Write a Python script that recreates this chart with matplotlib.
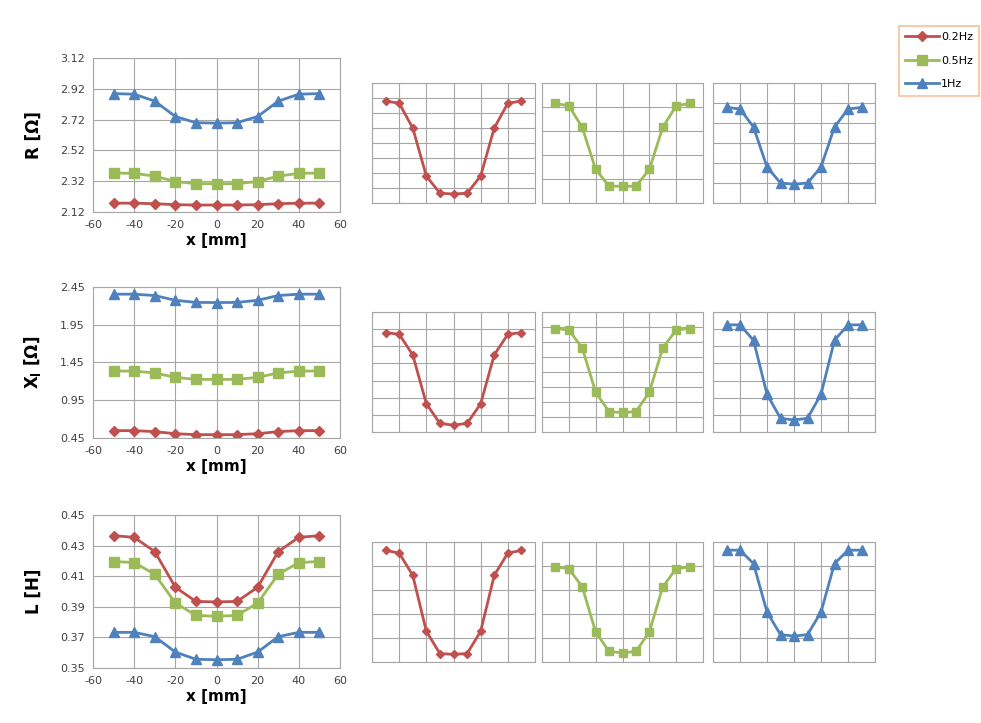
import matplotlib.pyplot as plt
import numpy as np

plt.rcParams['axes.unicode_minus'] = False

# positions along the coil [mm]
x = [-50, -40, -30, -20, -10, 0, 10, 20, 30, 40, 50]

# resistance R [Ohm]
r_02 = [2.1776, 2.1773, 2.1740, 2.1676, 2.1653, 2.1652, 2.1653, 2.1676, 2.1740, 2.1773, 2.1776]
r_05 = [2.373, 2.371, 2.353, 2.318, 2.304, 2.304, 2.304, 2.318, 2.353, 2.371, 2.373]
r_1 = [2.889, 2.885, 2.840, 2.740, 2.700, 2.697, 2.700, 2.740, 2.840, 2.885, 2.889]

# reactance Xl [Ohm]
xl_02 = [0.548, 0.547, 0.535, 0.5065, 0.495, 0.494, 0.495, 0.5065, 0.535, 0.547, 0.548]
xl_05 = [1.338, 1.336, 1.312, 1.253, 1.227, 1.226, 1.227, 1.253, 1.312, 1.336, 1.338]
xl_1 = [2.355, 2.355, 2.337, 2.274, 2.246, 2.244, 2.246, 2.274, 2.337, 2.355, 2.355]

# inductance L [H]
l_02 = [0.4365, 0.4354, 0.4261, 0.4028, 0.3935, 0.3932, 0.3935, 0.4028, 0.4261, 0.4354, 0.4365]
l_05 = [0.4196, 0.4189, 0.4113, 0.3925, 0.3844, 0.3838, 0.3844, 0.3925, 0.4113, 0.4189, 0.4196]
l_1 = [0.3733, 0.3733, 0.3705, 0.3604, 0.3557, 0.3554, 0.3557, 0.3604, 0.3705, 0.3733, 0.3733]

labels = ['0.2Hz', '0.5Hz', '1Hz']
colors = ['#C0504D', '#9BBB59', '#4F81BD']
markers = ['D', 's', '^']
msizes = [5, 6.5, 7]

rows = [
    {'data': [r_02, r_05, r_1], 'ylabel': 'R [Ω]', 'ylim': (2.12, 3.12), 'ystep': 0.2,
     'small': [(2.164, 2.180, 0.002), (2.29, 2.39, 0.02), (2.65, 2.95, 0.05)]},
    {'data': [xl_02, xl_05, xl_1], 'ylabel': r'X$_\mathbf{l}$ [Ω]', 'ylim': (0.45, 2.45), 'ystep': 0.5,
     'small': [(0.49, 0.56, 0.01), (1.20, 1.36, 0.02), (2.23, 2.37, 0.02)]},
    {'data': [l_02, l_05, l_1], 'ylabel': 'L [H]', 'ylim': (0.35, 0.45), 'ystep': 0.02,
     'small': [(0.39, 0.44, 0.01), (0.38, 0.43, 0.01), (0.35, 0.375, 0.005)]},
]

W, H = 981, 723
fig = plt.figure(figsize=(W / 100, H / 100), dpi=100)

# pixel boxes (left, top, right, bottom)
main_boxes = [(93, 58, 340, 212), (93, 287, 340, 438), (93, 515, 340, 668)]
small_cols = [(372, 535), (542, 703), (713, 875)]
small_rows = [(83, 203), (312, 432), (542, 662)]

grid_c = '#A6A6A6'
spine_c = '#A6A6A6'


def add_ax(l, t, r, b):
    return fig.add_axes([l / W, 1 - b / H, (r - l) / W, (b - t) / H])


handles = []
for i, row in enumerate(rows):
    l, t, r, b = main_boxes[i]
    ax = add_ax(l, t, r, b)
    for k in range(3):
        h, = ax.plot(x, row['data'][k], color=colors[k], marker=markers[k],
                     markersize=msizes[k], linewidth=2, label=labels[k])
        if i == 0:
            handles.append(h)
    y0, y1 = row['ylim']
    ax.set_xlim(-60, 60)
    ax.set_ylim(y0, y1)
    ax.set_xticks(np.arange(-60, 61, 20))
    ax.set_yticks(np.arange(y0, y1 + row['ystep'] / 2, row['ystep']))
    ax.yaxis.set_major_formatter(plt.FormatStrFormatter('%.2f'))
    ax.grid(True, color=grid_c, linewidth=0.8)
    ax.set_axisbelow(True)
    ax.tick_params(length=0, labelsize=8, colors='#404040', pad=6)
    for s in ax.spines.values():
        s.set_color(spine_c)
    ax.set_xlabel('x [mm]', fontsize=11, fontweight='bold', labelpad=2)
    ax.set_ylabel(row['ylabel'], fontsize=12, fontweight='bold', labelpad=12)

    st, sb = small_rows[i]
    for k in range(3):
        sl, sr = small_cols[k]
        sax = add_ax(sl, st, sr, sb)
        lo, hi, step = row['small'][k]
        sax.plot(x, row['data'][k], color=colors[k], marker=markers[k],
                 markersize=msizes[k] - 0.5, linewidth=2)
        sax.set_xlim(-60, 60)
        sax.set_ylim(lo, hi)
        sax.set_xticks(np.arange(-60, 61, 20))
        sax.set_yticks(np.arange(lo, hi + step / 2, step))
        sax.tick_params(length=0, labelbottom=False, labelleft=False)
        sax.grid(True, color=grid_c, linewidth=0.8)
        sax.set_axisbelow(True)
        for s in sax.spines.values():
            s.set_color(spine_c)

leg = fig.legend(handles=handles, loc='upper left', bbox_to_anchor=(893 / W, 1 - 20 / H),
                 frameon=True, fancybox=False, fontsize=8, handlelength=3,
                 labelspacing=1.2, borderpad=0.6, handletextpad=0.2)
leg.get_frame().set_edgecolor('#F4B183')
leg.get_frame().set_linewidth(1.2)

fig.savefig('out.png', dpi=100)
